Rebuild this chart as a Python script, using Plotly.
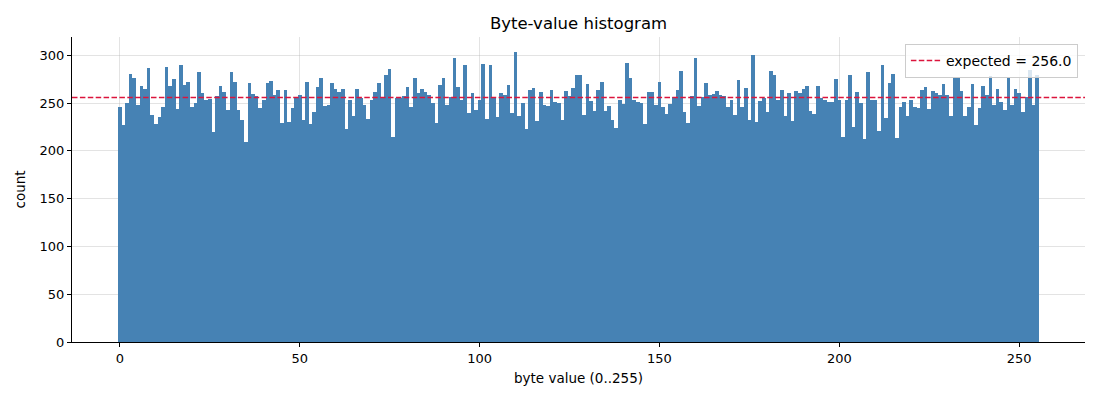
import plotly.graph_objects as go

# byte values 0..255 and their counts
byte_values = list(range(256))
counts = [
    246, 227, 250, 281, 276, 248, 268, 265, 287, 238, 228, 236, 246, 288, 268, 275,
    244, 290, 269, 272, 246, 250, 283, 261, 253, 254, 220, 257, 268, 262, 243, 283,
    272, 243, 232, 209, 271, 260, 257, 245, 253, 271, 273, 258, 264, 229, 264, 230,
    245, 256, 259, 232, 272, 228, 241, 267, 276, 247, 248, 271, 265, 262, 265, 223,
    253, 237, 265, 255, 248, 233, 253, 262, 271, 255, 279, 286, 215, 255, 255, 257,
    267, 246, 276, 261, 265, 262, 258, 250, 229, 269, 276, 248, 256, 297, 267, 253,
    290, 240, 261, 243, 253, 291, 233, 290, 256, 236, 261, 259, 269, 240, 304, 237,
    250, 223, 264, 266, 231, 262, 248, 247, 264, 251, 250, 232, 263, 257, 266, 279,
    279, 238, 270, 252, 242, 264, 272, 242, 247, 232, 224, 253, 249, 292, 276, 253,
    251, 250, 228, 262, 262, 248, 272, 246, 239, 249, 256, 264, 284, 241, 229, 257,
    297, 247, 256, 271, 258, 260, 263, 259, 257, 246, 253, 238, 274, 246, 266, 232,
    300, 230, 252, 255, 241, 284, 279, 253, 264, 237, 261, 231, 263, 261, 265, 268,
    242, 239, 268, 255, 253, 251, 251, 275, 253, 215, 253, 279, 225, 262, 250, 212,
    283, 253, 253, 221, 290, 234, 271, 281, 213, 246, 251, 237, 253, 246, 245, 264,
    267, 244, 263, 261, 259, 270, 259, 237, 276, 276, 263, 237, 246, 270, 227, 245,
    268, 259, 278, 248, 265, 251, 243, 276, 248, 265, 261, 241, 256, 285, 248, 279,
]
expected = 65536 / 256

x_ticks = [0, 50, 100, 150, 200, 250]
y_ticks = [0, 50, 100, 150, 200, 250, 300]

font = "DejaVu Sans"
grid_color = "rgba(176,176,176,0.35)"
dash_style = "5.5px,2.4px"

fig = go.Figure()
fig.add_trace(
    go.Bar(
        x=byte_values,
        y=counts,
        width=1,
        marker=dict(color="steelblue", line=dict(width=0)),
        showlegend=False,
        hoverinfo="x+y",
    )
)
# legend entry for the expected line (the line itself is a shape)
fig.add_trace(
    go.Scatter(
        x=[None],
        y=[None],
        mode="lines",
        line=dict(color="crimson", dash=dash_style, width=1.5),
        name=f"expected = {expected:.1f}",
    )
)
fig.add_shape(
    type="line",
    xref="x domain",
    yref="y",
    x0=0,
    x1=1,
    y0=expected,
    y1=expected,
    line=dict(color="crimson", dash=dash_style, width=1.5),
    layer="above",
)

axis_common = dict(
    showline=True,
    linecolor="black",
    linewidth=1,
    ticks="outside",
    ticklen=4,
    tickcolor="black",
    showgrid=True,
    gridcolor=grid_color,
    gridwidth=1,
    zeroline=False,
    automargin=False,
    layer="above traces",
    tickfont=dict(family=font, size=13, color="black"),
    title_font=dict(family=font, size=13.5, color="black"),
)

# page body has an 8px margin, so the plot box is shifted up/left by 8px
fig.update_layout(
    width=1100,
    height=400,
    paper_bgcolor="white",
    plot_bgcolor="white",
    bargap=0,
    margin=dict(l=64, r=23, t=29, b=66),
    title=dict(
        text="Byte-value histogram",
        x=(64 + 1077) / 2 / 1100,
        xanchor="center",
        y=1 - 15 / 400,
        yanchor="middle",
        font=dict(family=font, size=16.5, color="black"),
    ),
    xaxis=dict(
        axis_common,
        range=[-13.3, 268.3],
        tickvals=x_ticks,
        title=dict(text="byte value (0..255)", standoff=8),
    ),
    yaxis=dict(
        axis_common,
        range=[0, 319.2],
        tickvals=y_ticks,
        title=dict(text="count", standoff=10),
    ),
    legend=dict(
        x=0.993,
        y=0.977,
        xanchor="right",
        yanchor="top",
        bgcolor="rgba(255,255,255,0.8)",
        bordercolor="#cccccc",
        borderwidth=1,
        tracegroupgap=0,
        font=dict(family=font, size=14, color="black"),
    ),
)

fig.write_html("out.html")
